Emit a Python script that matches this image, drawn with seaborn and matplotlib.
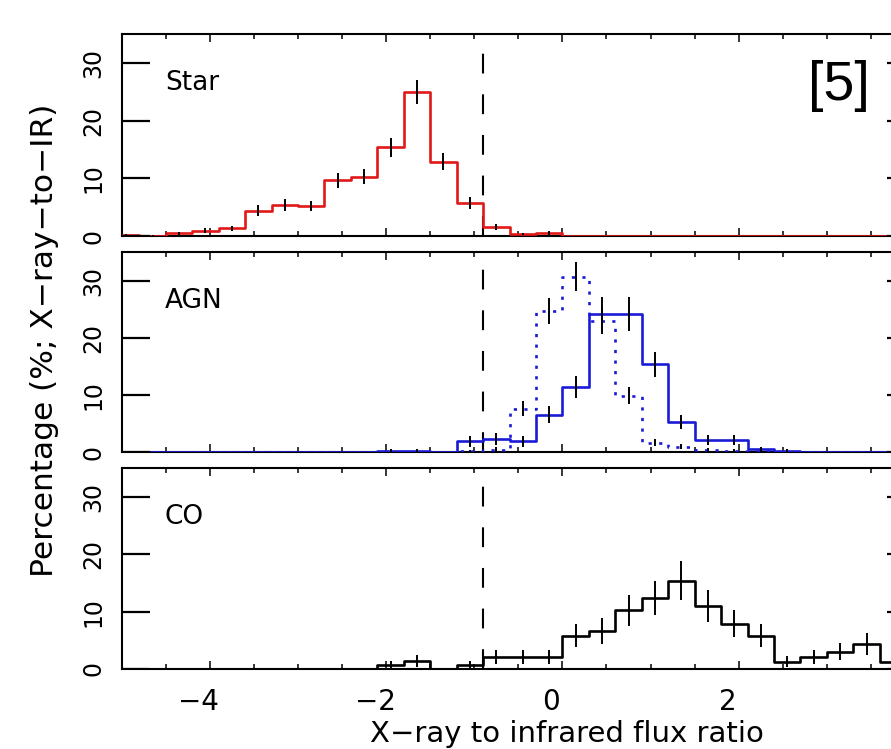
import numpy as np
import pandas as pd
import matplotlib
matplotlib.use('Agg')
import matplotlib.pyplot as plt
import matplotlib.transforms as mtransforms
from matplotlib.ticker import MultipleLocator, FixedLocator
import seaborn as sns

# bin centres, 0.3 wide bins
centres = [-4.95, -4.65, -4.35, -4.05, -3.75, -3.45, -3.15, -2.85, -2.55, -2.25,
           -1.95, -1.65, -1.35, -1.05, -0.75, -0.45, -0.15, 0.15, 0.45, 0.75,
           1.05, 1.35, 1.65, 1.95, 2.25, 2.55, 2.85, 3.15, 3.45, 3.75, 4.05]

star = [0.15, 0.05, 0.45, 0.9, 1.3, 4.4, 5.4, 5.2, 9.7, 10.3,
        15.4, 24.9, 12.9, 5.7, 1.5, 0.35, 0.55, 0, 0, 0,
        0, 0, 0, 0, 0, 0, 0, 0, 0, 0, 0]
star_err = [0.2, 0.1, 0.3, 0.4, 0.5, 0.9, 1.0, 0.95, 1.3, 1.35,
            1.65, 2.1, 1.5, 1.0, 0.5, 0.25, 0.3, 0, 0, 0,
            0, 0, 0, 0, 0, 0, 0, 0, 0, 0, 0]

agn = [0, 0, 0, 0, 0, 0, 0, 0, 0, 0,
       0.3, 0.3, 0, 1.9, 2.3, 1.9, 6.6, 11.4, 24.2, 24.2,
       15.4, 5.3, 2.1, 2.1, 0.5, 0.3, 0, 0, 0, 0, 0]
agn_err = [0, 0, 0, 0, 0, 0, 0, 0, 0, 0,
           0.3, 0.3, 0, 1.0, 1.1, 1.0, 1.5, 1.9, 3.0, 3.0,
           2.2, 1.3, 0.9, 0.9, 0.4, 0.3, 0, 0, 0, 0, 0]

agn_dot = [0, 0, 0, 0, 0, 0, 0, 0, 0, 0,
           0, 0, 0, 0.15, 0.4, 7.6, 24.7, 30.7, 23.0, 9.9,
           1.7, 1.0, 0.4, 0.3, 0.2, 0, 0, 0, 0, 0, 0]
agn_dot_err = [0, 0, 0, 0, 0, 0, 0, 0, 0, 0,
               0, 0, 0, 0.2, 0.5, 1.3, 2.3, 2.6, 2.3, 1.5,
               0.6, 0.45, 0.3, 0.3, 0.2, 0, 0, 0, 0, 0, 0]

co = [0, 0, 0, 0, 0, 0, 0, 0, 0, 0,
      0.7, 1.4, 0, 0.7, 2.1, 2.1, 2.1, 5.8, 6.6, 10.2,
      12.4, 15.4, 10.9, 7.9, 5.8, 1.3, 2.1, 3.0, 4.3, 1.3, 0]
co_err = [0, 0, 0, 0, 0, 0, 0, 0, 0, 0,
          0.7, 1.0, 0, 0.7, 1.2, 1.2, 1.2, 2.0, 2.2, 2.65,
          3.0, 3.4, 2.8, 2.4, 2.0, 1.0, 1.2, 1.45, 1.9, 1.0, 0]

names = ['Star', 'AGN', 'CO']
xticks = [-4, -2, 0, 2]
yticks = [0, 10, 20, 30]
cut = -0.9
edges = [round(c - 0.15, 2) for c in centres] + [round(centres[-1] + 0.15, 2)]

sns.set_style('ticks')
plt.rcParams.update({
    'font.family': ['DejaVu Sans'],
    'text.color': 'black',
    'axes.linewidth': 1.5,
    'axes.edgecolor': 'black',
    'xtick.direction': 'in',
    'ytick.direction': 'in',
    'xtick.top': True,
    'ytick.right': True,
    'xtick.major.size': 6,
    'xtick.minor.size': 3.5,
    'xtick.major.width': 1.1,
    'xtick.minor.width': 1.1,
    'ytick.major.size': 20,
    'ytick.major.width': 1.1,
    'ytick.minor.size': 0,
})

fig = plt.figure(figsize=(8.91, 7.49), dpi=100)
W, H = 891.0, 749.0
x0, x1 = 121.7, 915.0
panels = [(34, 236), (252, 452.3), (468, 669)]
ytick_frac = 28 / (x1 - x0)

def draw_hist(ax, vals, errs, color, ls='-'):
    df = pd.DataFrame({'x': centres, 'w': vals})
    sns.histplot(data=df, x='x', weights='w', bins=edges, element='step',
                 fill=False, color=color, linewidth=1.9, linestyle=ls, ax=ax, zorder=3)
    c = np.array(centres)
    v = np.array(vals)
    e = np.array(errs)
    m = e > 0
    ax.vlines(c[m], v[m] - e[m], v[m] + e[m], color='black', linewidth=1.4, zorder=4)

axes = []
for top, bot in panels:
    ax = fig.add_axes([x0 / W, 1 - bot / H, (x1 - x0) / W, (bot - top) / H])
    axes.append(ax)

draw_hist(axes[0], star, star_err, '#e01818')
draw_hist(axes[1], agn_dot, agn_dot_err, '#1a1ad6', ls=(0, (1.2, 2.8)))
draw_hist(axes[1], agn, agn_err, '#1a1ad6')
draw_hist(axes[2], co, co_err, 'black')

shift = mtransforms.ScaledTranslation(-11 / 100, 0, fig.dpi_scale_trans)
for i, ax in enumerate(axes):
    ax.set_xlim(-5, 4)
    ax.set_ylim(0, 35)
    ax.set_yticks(yticks)
    ax.axvline(cut, color='black', linewidth=1.5, dashes=(9.5, 10), zorder=2)
    ax.text(-4.51, 26.5, names[i], fontsize=19, ha='left', va='center')
    ax.set_xlabel('')
    ax.set_ylabel('')
    ax.tick_params(axis='y', which='major', left=True, right=True, direction='in',
                   length=20, width=1.1, labelsize=17, pad=12,
                   color='black', labelcolor='black')
    ax.xaxis.set_major_locator(FixedLocator(xticks))
    ax.xaxis.set_minor_locator(MultipleLocator(0.5))
    ax.tick_params(axis='x', which='both', color='black', labelcolor='black')
    for lab in ax.get_yticklabels():
        lab.set_rotation(90)
        lab.set_va('center')
    if i < 2:
        ax.tick_params(axis='x', labelbottom=False)
    else:
        ax.tick_params(axis='x', labelsize=20, pad=14)
        for lab in ax.get_xticklabels():
            lab.set_transform(lab.get_transform() + shift)

# long inward y ticks, drawn on a transparent layer above each panel
for top, bot in panels:
    oax = fig.add_axes([x0 / W, 1 - bot / H, (x1 - x0) / W, (bot - top) / H], frameon=False)
    oax.set_xlim(0, 1)
    oax.set_ylim(0, 35)
    oax.set_axis_off()
    oax.hlines(yticks, 0, ytick_frac, color='black', linewidth=1.6)
    oax.hlines(yticks, 1 - ytick_frac, 1, color='black', linewidth=1.6)

fig.text(45 / W, 1 - 340 / H, 'Percentage (%; X\u2212ray\u2212to\u2212IR)', rotation=90,
         ha='center', va='center', fontsize=22.5)
fig.text(567 / W, 1 - 742 / H, 'X\u2212ray to infrared flux ratio', ha='center', va='baseline',
         fontsize=21)
fig.text(839 / W, 1 - 86 / H, '[5]', ha='center', va='center', fontsize=40,
         family=['Liberation Sans', 'DejaVu Sans'])

fig.savefig('out.png', dpi=100)
